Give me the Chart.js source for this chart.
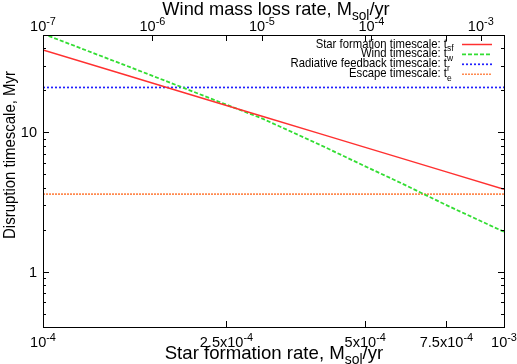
<!DOCTYPE html>
<html><head><meta charset="utf-8">
<script src="https://cdn.jsdelivr.net/npm/chart.js@4.4.1/dist/chart.umd.min.js"></script>
<style>html,body{margin:0;padding:0;background:#fff}#wrap{width:517px;height:364px}</style>
</head><body><div id="wrap"><canvas id="c" width="517" height="364"></canvas></div>
<script>
// ---- data ----
const sfr = [1e-4, 1.5e-4, 2e-4, 2.5e-4, 3e-4, 4e-4, 5e-4, 6e-4, 7.5e-4, 1e-3];
const tSF = [39, 26, 19.5, 15.6, 13, 9.75, 7.8, 6.5, 5.2, 3.9];
const tW  = [51, 30.5, 21.1, 15.8, 12.5, 8.1, 5.7, 4.3, 3.0, 1.93];
const sfrEnds = [1e-4, 1e-3];
const tR = [21, 21];
const tE = [3.6, 3.6];

const seriesNames = ['Star formation timescale: t', 'Wind timescale: t', 'Radiative feedback timescale: t', 'Escape timescale: t'];
const seriesSubs = ['sf', 'w', 'r', 'e'];

const xTicks = [1e-4, 2.5e-4, 5e-4, 7.5e-4, 1e-3];
const xTickLabels = [['10','-4'], ['2.5x10','-4'], ['5x10','-4'], ['7.5x10','-4'], ['10','-3']];
const x2Ticks = [1e-7, 1e-6, 1e-5, 1e-4, 1e-3];
const x2TickLabels = [['10','-7'], ['10','-6'], ['10','-5'], ['10','-4'], ['10','-3']];
const yTicks = [1, 10];
const yTickLabels = ['1', '10'];
const yMinorTicks = [0.5, 0.6, 0.7, 0.8, 0.9, 2, 3, 4, 5, 6, 7, 8, 9, 20, 30, 40];

const xTitle = ['Star formation rate, M', 'sol', '/yr'];
const x2Title = ['Wind mass loss rate, M', 'sol', '/yr'];
const yTitle = 'Disruption timescale, Myr';

const FONT = '"Liberation Sans", Arial, Helvetica, sans-serif';
const colors = ['#ff3030', '#33dd33', '#2020ff', '#ff8a50'];
const dashes = [[], [4, 2], [2, 2], [2, 1]];
const widths = [1.5, 1.8, 1.7, 1.6];

function pts(xs, ys) { return xs.map((x, i) => ({x: x, y: ys[i]})); }

// rich text: parts = [[text, mode]], mode 0 normal, 1 sup, -1 sub
let SUBSCALE = 0.75;
function richWidth(ctx, parts, size) {
  let w = 0;
  for (const [t, m] of parts) {
    ctx.font = (m ? size * SUBSCALE : size) + 'px ' + FONT;
    w += ctx.measureText(t).width;
  }
  return w;
}
function drawRich(ctx, parts, x, y, size, sx, align) {
  ctx.save();
  ctx.translate(x, y);
  ctx.scale(sx, 1);
  const w = richWidth(ctx, parts, size);
  let cx = align === 'center' ? -w / 2 : align === 'right' ? -w : 0;
  ctx.textBaseline = 'alphabetic';
  ctx.textAlign = 'left';
  for (const [t, m] of parts) {
    const s = m ? size * SUBSCALE : size;
    ctx.font = s + 'px ' + FONT;
    const dy = m === 1 ? -size * 0.42 : m === -1 ? size * 0.28 : 0;
    ctx.fillText(t, cx, dy);
    cx += ctx.measureText(t).width;
  }
  ctx.restore();
}

const axesPlugin = {
  id: 'gnuAxes',
  afterDraw(chart) {
    const ctx = chart.ctx;
    const a = chart.chartArea;
    const x = chart.scales.x, y = chart.scales.y, x2 = chart.scales.x2;
    ctx.save();
    ctx.fillStyle = '#000';
    ctx.strokeStyle = '#000';
    ctx.lineWidth = 1;
    // frame
    ctx.strokeRect(Math.round(a.left) + 0.5, Math.round(a.top) + 0.5, Math.round(a.right - a.left), Math.round(a.bottom - a.top));
    ctx.beginPath();
    // y ticks (both sides, inward)
    const yt = (v, len) => {
      const py = Math.round(y.getPixelForValue(v)) + 0.5;
      ctx.moveTo(a.left, py); ctx.lineTo(a.left + len, py);
      ctx.moveTo(a.right, py); ctx.lineTo(a.right - len, py);
    };
    yTicks.forEach(v => yt(v, 6));
    yMinorTicks.forEach(v => yt(v, 3));
    // x ticks bottom and mirrored top
    xTicks.forEach(v => {
      const px = Math.round(x.getPixelForValue(v)) + 0.5;
      ctx.moveTo(px, a.bottom); ctx.lineTo(px, a.bottom - 6);
      ctx.moveTo(px, a.top); ctx.lineTo(px, a.top + 6);
    });
    // x2 ticks on top
    x2Ticks.forEach(v => {
      const px = Math.round(x2.getPixelForValue(v)) + 0.5;
      ctx.moveTo(px, a.top); ctx.lineTo(px, a.top + 6);
    });
    ctx.stroke();

    // tick labels
    const tsz = 15, tsx = 0.97;
    xTicks.forEach((v, i) => {
      const px = x.getPixelForValue(v);
      drawRich(ctx, [[xTickLabels[i][0], 0], [xTickLabels[i][1], 1]], px, a.bottom + 20, tsz, tsx, 'center');
    });
    x2Ticks.forEach((v, i) => {
      const px = x2.getPixelForValue(v);
      drawRich(ctx, [[x2TickLabels[i][0], 0], [x2TickLabels[i][1], 1]], px, a.top - 4, tsz, tsx, 'center');
    });
    yTicks.forEach((v, i) => {
      const py = y.getPixelForValue(v);
      drawRich(ctx, [[yTickLabels[i], 0]], a.left - 6, py + 5, tsz, tsx, 'right');
    });

    // axis titles
    const ttl = 19;
    drawRich(ctx, [[xTitle[0], 0], [xTitle[1], -1], [xTitle[2], 0]], 274, 359, ttl, 0.98, 'center');
    drawRich(ctx, [[x2Title[0], 0], [x2Title[1], -1], [x2Title[2], 0]], 276, 15, ttl, 0.96, 'center');
    ctx.save();
    ctx.translate(15, 155);
    ctx.rotate(-Math.PI / 2);
    drawRich(ctx, [[yTitle, 0]], 0, 0, 17, 0.88, 'center');
    ctx.restore();

    // legend
    const lsz = 13, lsx = 0.87;
    for (let i = 0; i < 4; i++) {
      const ly = 44 + i * 9.9;
      const main = [[seriesNames[i], 0]];
      const w = richWidth(ctx, main, lsz);
      drawRich(ctx, [[seriesNames[i], 0], [seriesSubs[i], -1]], 447 - w * lsx, ly + 3.5, lsz, lsx, 'left');
      ctx.beginPath();
      ctx.strokeStyle = colors[i];
      ctx.lineWidth = widths[i];
      ctx.setLineDash(dashes[i]);
      ctx.moveTo(462, ly + 0.5); ctx.lineTo(492, ly + 0.5);
      ctx.stroke();
      ctx.setLineDash([]);
    }
    ctx.restore();
  }
};

function ds(label, data, i) {
  return {
    label: label, data: data, showLine: true, pointRadius: 0, borderColor: colors[i],
    backgroundColor: colors[i], borderWidth: widths[i], borderDash: dashes[i], tension: 0, fill: false
  };
}

new Chart(document.getElementById('c'), {
  type: 'scatter',
  data: {
    datasets: [
      ds(seriesNames[0] + seriesSubs[0], pts(sfr, tSF), 0),
      ds(seriesNames[1] + seriesSubs[1], pts(sfr, tW), 1),
      ds(seriesNames[2] + seriesSubs[2], pts(sfrEnds, tR), 2),
      ds(seriesNames[3] + seriesSubs[3], pts(sfrEnds, tE), 3)
    ]
  },
  options: {
    responsive: false, animation: false, devicePixelRatio: 1,
    layout: {padding: {left: 43, right: 13, top: 35, bottom: 37}},
    plugins: {legend: {display: false}, tooltip: {enabled: false}},
    scales: {
      x: {type: 'logarithmic', min: 1e-4, max: 1e-3, display: false},
      x2: {type: 'logarithmic', position: 'top', min: 1e-7, max: 1.63e-3, display: false},
      y: {type: 'logarithmic', min: 0.4, max: 50, display: false}
    }
  },
  plugins: [axesPlugin]
});
</script></body></html>
